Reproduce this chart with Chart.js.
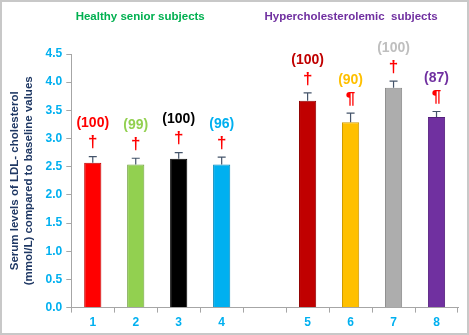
<!DOCTYPE html>
<html>
<head>
<meta charset="utf-8">
<script src="https://cdn.jsdelivr.net/npm/chart.js@4.4.1/dist/chart.umd.min.js"></script>
<style>
  html, body { margin: 0; padding: 0; background: #fff; }
  #wrap { width: 469px; height: 335px; box-sizing: border-box; border: 2px solid #c8c8c8; }
</style>
</head>
<body>
<div id="wrap"><canvas id="ldlChart" width="465" height="331"></canvas></div>
<script>
// --- DATOS ---
const categorias = ['1', '2', '3', '4', '', '5', '6', '7', '8'];
const valores = [2.57, 2.54, 2.64, 2.54, null, 3.67, 3.29, 3.90, 3.38];
const errores = [0.11, 0.11, 0.11, 0.13, null, 0.14, 0.16, 0.12, 0.10];
const porcentajes = ['(100)', '(99)', '(100)', '(96)', '', '(100)', '(90)', '(100)', '(87)'];
const simbolos = ['†', '†', '†', '†', '', '†', '¶', '†', '¶'];
const coloresBarras = ['#ff0000', '#92d050', '#000000', '#00b0f0', '#ffffff', '#c00000', '#ffc000', '#adadad', '#7030a0'];
const bordesBarras = ['#c00000', '#6f9f3c', '#000000', '#0088bb', '#ffffff', '#900000', '#d09a00', '#8a8a8a', '#55207d'];
const coloresEtiquetas = ['#ff0000', '#92d050', '#000000', '#00b0f0', '#ffffff', '#c00000', '#ffc000', '#bfbfbf', '#7030a0'];
const ticksY = [0, 0.5, 1.0, 1.5, 2.0, 2.5, 3.0, 3.5, 4.0, 4.5];

const FUENTE = '"Liberation Sans", Arial, sans-serif';

// barras de error, etiquetas y titulos de grupo
const anotaciones = {
    id: 'anotaciones',
    afterDatasetsDraw(chart) {
        const ctx = chart.ctx;
        const y = chart.scales.y;
        const x = chart.scales.x;
        const meta = chart.getDatasetMeta(0);
        ctx.save();
        meta.data.forEach((bar, i) => {
            if (valores[i] == null) return;
            const yTop = y.getPixelForValue(valores[i] + errores[i]);
            const yBar = y.getPixelForValue(valores[i]);
            ctx.strokeStyle = '#44546a';
            ctx.lineWidth = 1.2;
            ctx.beginPath();
            ctx.moveTo(bar.x, yBar);
            ctx.lineTo(bar.x, yTop);
            ctx.moveTo(bar.x - 4, yTop);
            ctx.lineTo(bar.x + 4, yTop);
            ctx.stroke();

            ctx.textAlign = 'center';
            ctx.textBaseline = 'middle';
            ctx.fillStyle = '#ff0000';
            ctx.font = 'bold 17px ' + FUENTE;
            ctx.fillText(simbolos[i], bar.x, yTop - 14);
            ctx.fillStyle = coloresEtiquetas[i];
            ctx.font = 'bold 14px ' + FUENTE;
            ctx.fillText(porcentajes[i], bar.x, yTop - 33);
        });

        // titulos de grupo
        ctx.font = 'bold 11.5px ' + FUENTE;
        ctx.textAlign = 'center';
        ctx.textBaseline = 'middle';
        const medio1 = (x.getPixelForValue(1) + x.getPixelForValue(2)) / 2;
        const medio2 = (x.getPixelForValue(6) + x.getPixelForValue(7)) / 2;
        ctx.fillStyle = '#00b050';
        ctx.fillText('Healthy senior subjects', medio1 - 17, 15);
        ctx.fillStyle = '#7030a0';
        ctx.fillText('Hypercholesterolemic  subjects', medio2 - 21, 15);
        ctx.restore();
    }
};

new Chart(document.getElementById('ldlChart'), {
    type: 'bar',
    data: {
        labels: categorias,
        datasets: [{
            data: valores,
            backgroundColor: coloresBarras,
            borderColor: bordesBarras,
            borderWidth: 1,
            barPercentage: 0.4,
            categoryPercentage: 1
        }]
    },
    options: {
        responsive: false,
        animation: false,
        layout: { padding: { top: 52, right: 9, left: 6, bottom: 0 } },
        plugins: {
            legend: { display: false },
            tooltip: { enabled: false }
        },
        scales: {
            x: {
                grid: { display: true, offset: true, drawOnChartArea: false, tickLength: 5, color: '#a6a6a6' },
                border: { color: '#a6a6a6' },
                ticks: { color: '#00b0f0', font: { family: FUENTE, size: 12, weight: 'bold' }, padding: 3 }
            },
            y: {
                min: 0,
                max: 4.5,
                afterBuildTicks: (axis) => { axis.ticks = ticksY.map(v => ({ value: v })); },
                grid: { display: true, drawOnChartArea: false, tickLength: 5, color: '#a6a6a6' },
                border: { color: '#a6a6a6' },
                ticks: {
                    color: '#00b0f0',
                    font: { family: FUENTE, size: 12, weight: 'bold' },
                    padding: 4,
                    callback: (v) => Number(v).toFixed(1)
                },
                title: {
                    display: true,
                    text: ['Serum levels of LDL- cholesterol', '(mmol/L) compared to baseline values'],
                    color: '#1f3864',
                    font: { family: FUENTE, size: 11.5, weight: 'bold' },
                    padding: { top: 0, bottom: 6 }
                }
            }
        }
    },
    plugins: [anotaciones]
});
</script>
</body>
</html>
